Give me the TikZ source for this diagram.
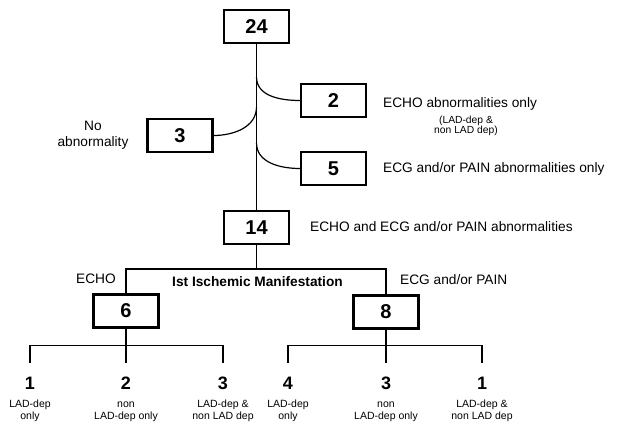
\documentclass[tikz,border=0pt]{standalone}
\usepackage{fontspec}
\setmainfont{Liberation Sans}
\usetikzlibrary{positioning}
\tikzset{
  box/.style  = {draw, line width=2.2pt, minimum width=65pt, minimum height=33pt, inner sep=0pt, font=\fontsize{20}{20}\selectfont\bfseries},
  leaf/.style = {inner xsep=0pt, inner ysep=13.5pt, text height=13pt, text depth=0pt, font=\fontsize{18}{18}\selectfont\bfseries},
  lbl/.style  = {inner sep=0pt, font=\fontsize{13.7}{16}\selectfont},
  sub/.style  = {inner sep=0pt, align=center, font=\fontsize{10.5}{11.5}\selectfont},
  link/.style = {line width=1.2pt},
}
\begin{document}
\begin{tikzpicture}[x=1pt,y=1pt]
  \useasboundingbox (0,0) rectangle (618,423);
  % numbered boxes
  \node[box] (n24) at (256.5,396.5) {24};
  \node[box] (n2)  at (333.5,322.5) {2};
  \node[box] (n3)  at (180,287.5)   {3};
  \node[box] (n5)  at (333.5,254.5) {5};
  \node[box] (n14) at (256.5,195.5) {14};
  \node[box] (n6)  at (126,112)     {6};
  \node[box] (n8)  at (386,111)     {8};
  % side branches off the main line
  \coordinate (j2) at (256.5,346);
  \coordinate (j3) at (256.5,316);
  \coordinate (j5) at (256.5,280);
  \draw[link] (n24) -- (n14);
  \draw[link] (j2) to[out=-90,in=180] (n2.west);
  \draw[link] (j3) to[out=-90,in=0] (n3.east);
  \draw[link] (j5) to[out=-90,in=180] (n5.west);
  \node[lbl, anchor=base west] (t2) at (383,315.1) {ECHO abnormalities only};
  \node[sub, font=\fontsize{10.3}{10.5}\selectfont] (t2b) at (466,297) {(LAD-dep \&\\non LAD dep)};
  \node[lbl, anchor=base west] (t5) at (383,250.1) {ECG and/or PAIN abnormalities only};
  \node[lbl, align=center, font=\fontsize{13.7}{16}\selectfont] (t3) at (93,287.5) {No\\abnormality};
  \node[lbl, anchor=base west] (t14) at (310,191.1) {ECHO and ECG and/or PAIN abnormalities};
  % first ischemic manifestation
  \coordinate (bar) at (256.5,154);
  \draw[link] (n14) -- (bar);
  \draw[link] (n6.north) |- (bar) -| (n8.north);
  \node[lbl, anchor=base] (techo) at (96,139.1) {ECHO};
  \node[lbl, anchor=base, font=\fontsize{13.7}{16}\selectfont\bfseries] (tist) at (257.5,136.1) {Ist Ischemic Manifestation};
  \node[lbl, anchor=base west] (tecg) at (400,138.1) {ECG and/or PAIN};
  % leaves
  \node[leaf] (l1) at (30,40)  {1};
  \node[leaf] (l2) at (126,40) {2};
  \node[leaf] (l3) at (223,40) {3};
  \node[leaf] (l4) at (288,40) {4};
  \node[leaf] (l5) at (386,40) {3};
  \node[leaf] (l6) at (482,40) {1};
  \coordinate (k6) at (126,77.5);
  \coordinate (k8) at (386,77.5);
  \draw[link] (n6) -- (k6);
  \draw[link] (l1.north) |- (k6) -| (l3.north);
  \draw[link] (k6) -- (l2.north);
  \draw[link] (n8) -- (k8);
  \draw[link] (l4.north) |- (k8) -| (l6.north);
  \draw[link] (k8) -- (l5.north);
  \node[sub, below=16.5pt of l1.center] (s1) {\strut LAD-dep\\only};
  \node[sub, below=16.5pt of l2.center] (s2) {\strut non\\LAD-dep only};
  \node[sub, below=16.5pt of l3.center] (s3) {\strut LAD-dep \&\\non LAD dep};
  \node[sub, below=16.5pt of l4.center] (s4) {\strut LAD-dep\\only};
  \node[sub, below=16.5pt of l5.center] (s5) {\strut non\\LAD-dep only};
  \node[sub, below=16.5pt of l6.center] (s6) {\strut LAD-dep \&\\non LAD dep};
\end{tikzpicture}
\end{document}
